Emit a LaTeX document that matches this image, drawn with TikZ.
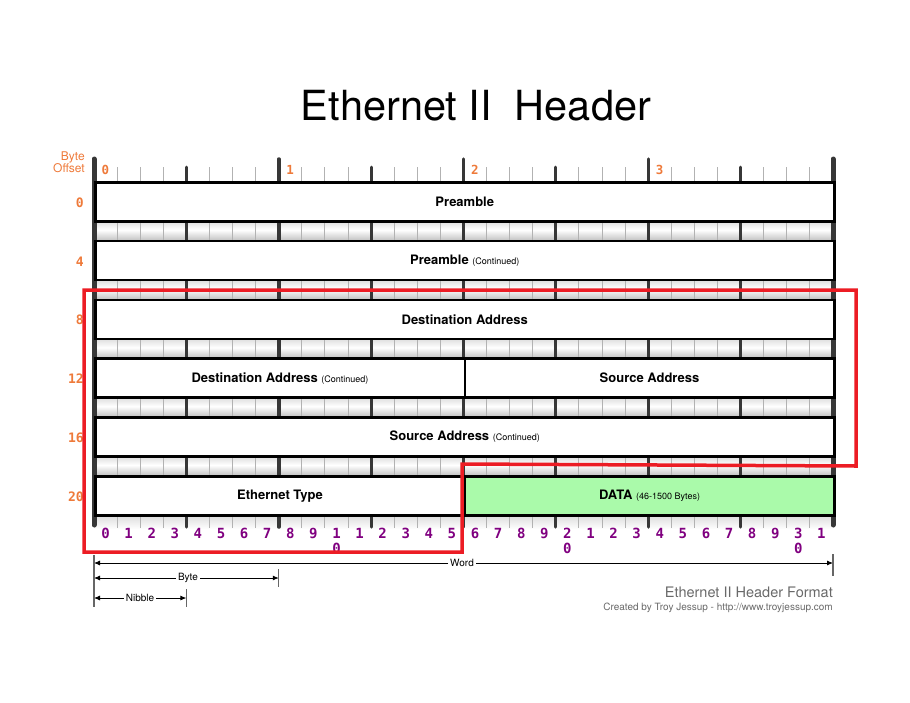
\documentclass[tikz,border=0pt]{standalone}
\usepackage{fontspec}
\setmainfont{TeX Gyre Heros}
\setmonofont{DejaVu Sans Mono}
\usetikzlibrary{arrows.meta,positioning,calc}

\definecolor{offsetorange}{RGB}{238,122,58}
\definecolor{bitpurple}{RGB}{128,0,128}
\definecolor{datagreen}{RGB}{170,250,170}
\definecolor{railgray}{RGB}{55,55,55}
\definecolor{notegray}{RGB}{105,105,105}
\definecolor{markred}{RGB}{236,28,36}

\newcommand{\contnote}[1]{{\mdseries\fontsize{9}{11}\selectfont #1}}

\begin{document}
\begin{tikzpicture}[x=1pt, y=-1pt]
        % Header formulae
        \pgfmathsetmacro{\xmin}{94}
        \pgfmathsetmacro{\xmax}{833}
        \pgfmathsetmacro{\xmid}{(\xmin+\xmax)/2}
        \pgfmathsetmacro{\bitw}{(\xmax-\xmin)/32}
        \pgfmathsetmacro{\rowh}{39}
        \pgfmathsetmacro{\pitch}{58.8}
        \pgfmathsetmacro{\ytop}{181}

        \tikzset{
            field/.style={draw=black, line width=2.5pt, fill=white, inner sep=0pt,
                anchor=north west, minimum height=\rowh pt,
                font=\fontsize{13}{15}\selectfont\bfseries},
            full/.style={field, minimum width=739pt},
            half/.style={field, minimum width=369.5pt},
            offset/.style={text=offsetorange, inner sep=0pt, font=\ttfamily\bfseries\fontsize{13}{15}\selectfont},
            bitnum/.style={text=bitpurple, inner sep=0pt, align=center, anchor=north,
                font=\ttfamily\bfseries\fontsize{14}{15}\selectfont},
            gapshade/.style={top color=gray!30, bottom color=gray!45, middle color=white},
            scale label/.style={fill=white, inner sep=2pt, font=\fontsize{10}{12}\selectfont},
            scale arrow/.style={-{Latex[length=6pt,width=5pt]}, line width=0.8pt},
            scale bar/.style={gray!80!black, line width=1.2pt},
        }

        \useasboundingbox (0,0) rectangle (910,702);

        % Title
        \node[anchor=base, font=\fontsize{41.5}{48}\selectfont] (title) at (476,120) {Ethernet II\ \ Header};

        % Shaded gaps between the rows
        \foreach \k in {0,...,4}{
            \shade[gapshade] (\xmin,{\ytop+\pitch*\k+\rowh}) rectangle (\xmax,{\ytop+\pitch*(\k+1)});
        }
        \shade[top color=gray!30, bottom color=white] (\xmin,{\ytop+\pitch*5+\rowh}) rectangle (\xmax,529);

        % Bit, nibble and byte ticks
        \foreach \i in {1,...,31}{
            \pgfmathtruncatemacro{\nib}{mod(\i,4)}
            \pgfmathtruncatemacro{\byt}{mod(\i,8)}
            \ifnum\byt=0
                \draw[railgray, line width=3.5pt, line cap=round] ({\xmin+\bitw*\i},159) -- ({\xmin+\bitw*\i},527);
            \else\ifnum\nib=0
                \draw[railgray, line width=3pt, line cap=round] ({\xmin+\bitw*\i},167) -- ({\xmin+\bitw*\i},527);
            \else
                \draw[gray!60, line width=1pt] ({\xmin+\bitw*\i},167) -- ({\xmin+\bitw*\i},528);
            \fi\fi
        }
        \draw[railgray, line width=5pt, line cap=round] (\xmin,159) -- (\xmin,525);
        \draw[railgray, line width=5pt, line cap=round] (\xmax,159) -- (\xmax,525);

        % Header fields
        \node[full] (pre) at (\xmin,{\ytop}) {Preamble};
        \node[full] (precont) at (\xmin,{\ytop+\pitch}) {Preamble \contnote{(Continued)}};
        \node[full] (dstaddr) at (\xmin,{\ytop+2*\pitch}) {Destination Address};
        \node[half] (dstcont) at (\xmin,{\ytop+3*\pitch}) {Destination Address \contnote{(Continued)}};
        \node[half] (srcaddr) at (\xmid,{\ytop+3*\pitch}) {Source Address};
        \node[full] (srccont) at (\xmin,{\ytop+4*\pitch}) {Source Address \contnote{(Continued)}};
        \node[half] (ethtype) at (\xmin,{\ytop+5*\pitch}) {Ethernet Type};
        \node[half, fill=datagreen] (data) at (\xmid,{\ytop+5*\pitch}) {DATA \contnote{(46-1500 Bytes)}};

        % Byte offsets on the left
        \node[anchor=base east, inner sep=0pt, text=offsetorange, align=right, font=\fontsize{12}{12}\selectfont]
            (offsettitle) at (85,172) {Byte\\Offset};
        \foreach \k in {0,...,5}{
            \pgfmathtruncatemacro{\off}{4*\k}
            \node[offset, anchor=east] (off\off) at (84,{\ytop+\pitch*\k+\rowh/2+2}) {\off};
        }

        % Byte numbers on top
        \foreach \b in {0,...,3}{
            \node[offset, font=\ttfamily\bfseries\fontsize{12.5}{14}\selectfont] (byte\b) at ({\xmin+8*\bitw*\b+11.5},170) {\b};
        }

        % Bit numbers below
        \foreach \lbl [count=\i from 0] in {0,1,2,3,4,5,6,7,8,9,{1\\0},1,2,3,4,5,6,7,8,9,{2\\0},1,2,3,4,5,6,7,8,9,{3\\0},1}{
            \node[bitnum] (bit\i) at ({\xmin+\bitw*(\i+0.5)},528) {\lbl};
        }

        % Word, byte and nibble scales
        \coordinate (wordL) at (\xmin,563);
        \coordinate (wordR) at (\xmax,563);
        \coordinate (byteL) at (\xmin,578);
        \coordinate (byteR) at ({\xmin+8*\bitw},578);
        \coordinate (nibL) at (\xmin,598);
        \coordinate (nibR) at ({\xmin+4*\bitw},598);
        \node[scale label] (wordlbl) at (462,563) {Word};
        \node[scale label] (bytelbl) at (188,578) {Byte};
        \node[scale label] (niblbl) at (140,598) {Nibble};
        \draw[scale arrow] (wordlbl) -- (wordL);
        \draw[scale arrow] (wordlbl) -- (wordR);
        \draw[scale arrow] (bytelbl) -- (byteL);
        \draw[scale arrow] (bytelbl) -- (byteR);
        \draw[scale arrow] (niblbl) -- (nibL);
        \draw[scale arrow] (niblbl) -- (nibR);
        \begin{scope}[scale bar]
            \draw (\xmin,555) -- (\xmin,607);
            \draw (\xmax,554) -- (\xmax,576);
            \draw ($(byteR)+(0,-9)$) -- ($(byteR)+(0,9)$);
            \draw ($(nibR)+(0,-9)$) -- ($(nibR)+(0,9)$);
        \end{scope}

        % Footer
        \node[anchor=base east, inner sep=0pt, text=notegray, font=\fontsize{14.5}{16}\selectfont] (format) at (833,597) {Ethernet II Header Format};
        \node[anchor=base east, inner sep=0pt, text=notegray, font=\fontsize{10}{11}\selectfont] (credit) at (833,610) {Created by Troy Jessup - http://www.troyjessup.com};

        % Red marking round the address fields
        \draw[markred, line width=3.5pt] (84,290) -- (856,290) -- (856,466) -- (462,464) -- (462,552) -- (84,552) -- cycle;
\end{tikzpicture}
\end{document}
